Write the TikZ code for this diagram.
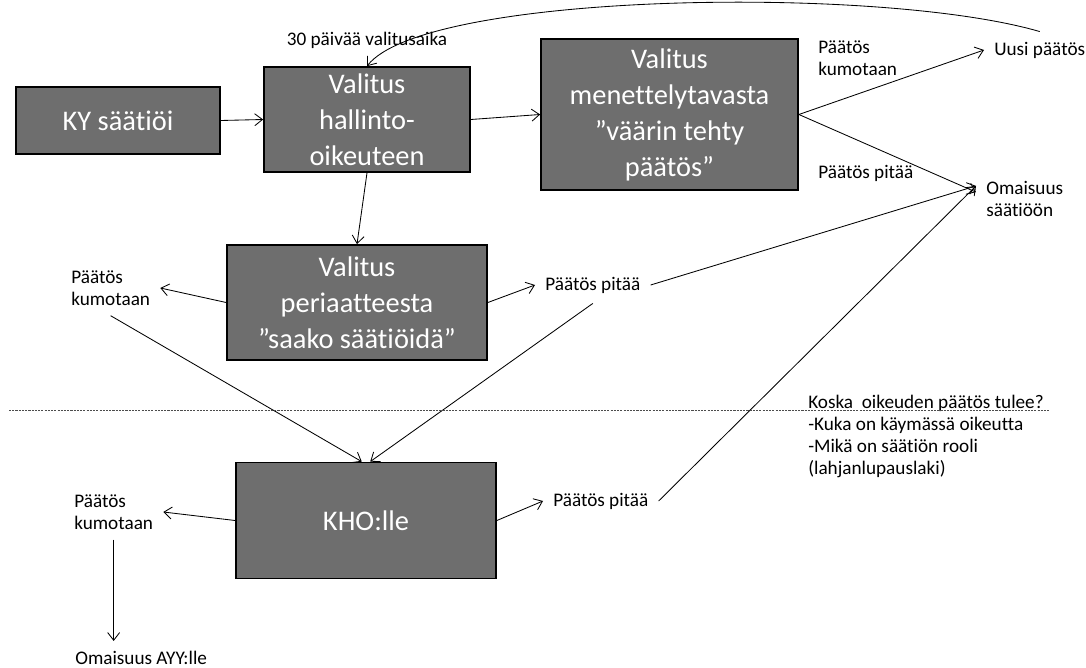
\documentclass[tikz,border=0pt]{standalone}
\usepackage{fontspec}
\setmainfont{Carlito}[Ligatures=NoCommon]
\usetikzlibrary{arrows.meta}
\definecolor{harmaa}{RGB}{110,110,110}

\begin{document}
\begin{tikzpicture}[x=0.025cm, y=-0.025cm, >={Straight Barb[length=5.5pt,width=8.5pt]}]
    %valitusprosessi
\tikzset{
    laatikko/.style={draw=black, line width=1.2pt, fill=harmaa, text=white, align=center,
        font=\fontsize{20.2pt}{25.6pt}\selectfont},
    teksti/.style={font=\fontsize{13.66pt}{15.65pt}\selectfont, align=left, inner sep=0.25cm},
    nuoli/.style={->, line width=0.6pt},
    raja/.style={line width=0.6pt, gray!60!black, dash pattern=on 1.5pt off 0.8pt}
}
    \useasboundingbox (0,0) rectangle (1086,668);

    \node[laatikko, minimum width=5.1cm, minimum height=1.675cm](KY) at (118,120.5) {KY säätiöi};
    \node[laatikko, minimum width=5.15cm, minimum height=2.625cm](Hallinto) at (367,119.5) {Valitus\\hallinto-\\oikeuteen};
    \node[laatikko, minimum width=6.425cm, minimum height=3.775cm](Menettely) at (669.5,114.5) {Valitus\\menettelytavasta\\”väärin tehty\\päätös”};
    \node[laatikko, minimum width=6.5cm, minimum height=2.875cm](Periaate) at (357,302.5) {Valitus\\periaatteesta\\”saako säätiöidä”};
    \node[laatikko, minimum width=6.5cm, minimum height=2.9cm](KHO) at (366,520.5) {KHO:lle};

    \node[teksti](Valitusaika) at (367,40) {30 päivää valitusaika};
    \node[teksti, anchor=west](MenKumo) at (808,58) {Päätös\\kumotaan};
    \node[teksti, anchor=west](MenPitaa) at (808,173) {Päätös pitää};
    \node[teksti, anchor=west](Uusi) at (984,50) {Uusi päätös};
    \node[teksti, anchor=west](OmSaatio) at (976,199) {Omaisuus\\säätiöön};
    \node[teksti, anchor=west](PerKumo) at (61,288) {Päätös\\kumotaan};
    \node[teksti, anchor=west](PerPitaa) at (535,285) {Päätös pitää};
    \node[teksti, anchor=west](KhoKumo) at (64,512) {Päätös\\kumotaan};
    \node[teksti, anchor=west](KhoPitaa) at (543,501) {Päätös pitää};
    \node[teksti, anchor=west](AYY) at (65,658) {Omaisuus AYY:lle};
    \node[teksti, anchor=north west](Koska) at (798,385) {Koska\ \ oikeuden päätös tulee?\\-Kuka on käymässä oikeutta\\-Mikä on säätiön rooli\\(lahjanlupauslaki)};

    \draw[nuoli] (KY.east) -- (Hallinto.west);
    \draw[nuoli] (Hallinto.east) -- (Menettely.west);
    \draw[nuoli] (Hallinto.south) -- (Periaate.north);
    \draw[nuoli] (Uusi.north) .. controls (880,-15) and (425,-8) .. (Hallinto.north);
    \draw[nuoli] (Menettely.east) -- (Uusi.west);
    \draw[nuoli] (Menettely.east) -- (OmSaatio.172);
    \draw[nuoli] (Periaate.west) -- (PerKumo.east);
    \draw[nuoli] (Periaate.east) -- (PerPitaa.west);
    \draw[nuoli] (PerPitaa.east) -- (OmSaatio.165);
    \draw[nuoli] (PerKumo.south) -- ([xshift=-3pt]KHO.north);
    \draw[nuoli] (PerPitaa.south) -- ([xshift=3pt]KHO.north);
    \draw[nuoli] (KHO.west) -- (KhoKumo.east);
    \draw[nuoli] (KHO.east) -- (KhoPitaa.west);
    \draw[nuoli] (KhoPitaa.east) -- (OmSaatio.165);
    \draw[nuoli] (KhoKumo.south) -- (KhoKumo.south |- AYY.north);
    \draw[raja] (9,410) -- (1050,410);
\end{tikzpicture}
\end{document}
